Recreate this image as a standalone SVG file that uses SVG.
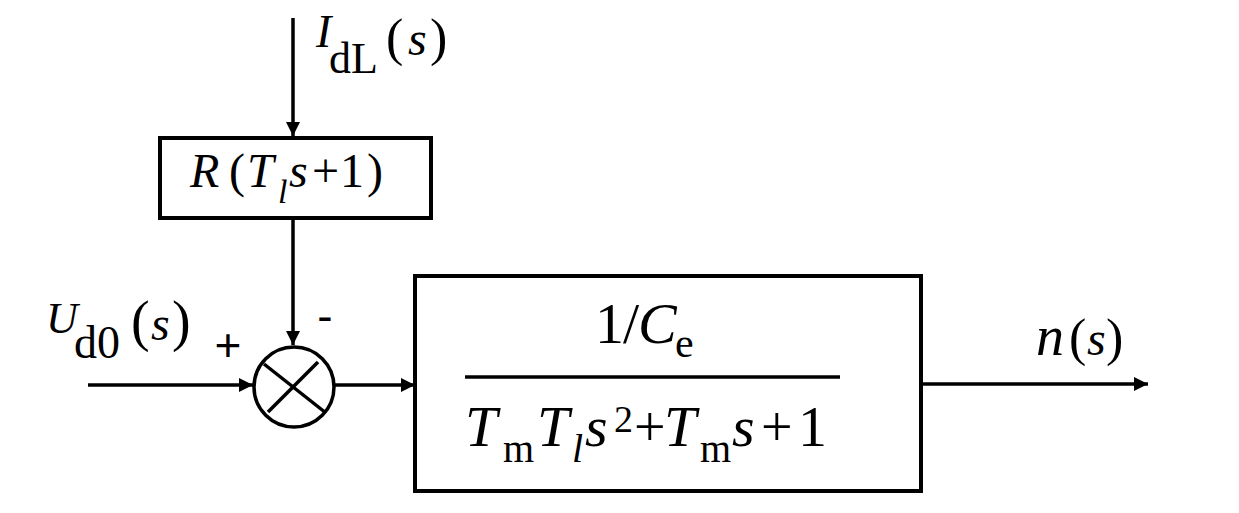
<svg xmlns="http://www.w3.org/2000/svg" width="1239" height="513" viewBox="0 0 1239 513">
<style>
.ln{stroke:#000;stroke-width:3.5;fill:none}
.bx{stroke:#000;stroke-width:4;fill:#fff}
.t{font-family:'Liberation Serif','Times New Roman',serif;fill:#000}
.i{font-style:italic}
.sg{font-family:'Liberation Sans',Arial,sans-serif;fill:#000}
</style>
<defs>
<marker id="ah" viewBox="0 0 10 10" refX="10" refY="5" markerWidth="5" markerHeight="4" markerUnits="strokeWidth" orient="auto">
<path d="M0,0L10,5L0,10z" fill="#000"/>
</marker>
</defs>
<g id="connectors">
<line class="ln" x1="293" y1="18" x2="293" y2="136" marker-end="url(#ah)"/>
<line class="ln" x1="293" y1="218" x2="293" y2="345" marker-end="url(#ah)"/>
<line class="ln" x1="88" y1="385" x2="253" y2="385" marker-end="url(#ah)"/>
<line class="ln" x1="335" y1="385" x2="415" y2="385" marker-end="url(#ah)"/>
<line class="ln" x1="921" y1="384" x2="1148" y2="384" marker-end="url(#ah)"/>
</g>
<g id="label-IdL" class="t">
<text class="i" x="316" y="47" font-size="46">I</text>
<text x="329" y="73" font-size="44">dL</text>
<text x="386" y="55" font-size="52">(</text>
<text class="i" x="408" y="55" font-size="48">s</text>
<text x="430" y="55" font-size="52">)</text>
</g>
<g id="node-R" class="t">
<rect class="bx" x="160" y="138" width="271" height="80"/>
<text class="i" x="190" y="187" font-size="48">R</text>
<text x="229" y="187" font-size="48">(</text>
<text class="i" x="247" y="187" font-size="48">T</text>
<text class="i" x="278" y="203" font-size="34">l</text>
<text class="i" x="289" y="187" font-size="48">s</text>
<text x="312" y="187" font-size="48">+</text>
<text x="340" y="187" font-size="48">1</text>
<text x="367" y="187" font-size="48">)</text>
</g>
<g id="label-Ud0" class="t">
<text class="i" x="46" y="333" font-size="44">U</text>
<text x="74" y="358" font-size="46">d0</text>
<text x="131" y="340" font-size="56">(</text>
<text class="i" x="151" y="340" font-size="48">s</text>
<text x="172" y="340" font-size="56">)</text>
</g>
<g id="sum">
<circle class="ln" cx="294" cy="387" r="40"/>
<line class="ln" x1="264" y1="364" x2="326" y2="413"/>
<line class="ln" x1="318" y1="362" x2="268" y2="412"/>
<text class="sg" x="228" y="361" font-size="46" text-anchor="middle">+</text>
<text class="sg" x="325" y="332" font-size="46" text-anchor="middle">-</text>
</g>
<g id="node-G" class="t">
<rect class="bx" x="415" y="276" width="506" height="215"/>
<text x="595" y="343" font-size="58">1</text>
<text x="623" y="343" font-size="58">/</text>
<text class="i" x="638" y="343" font-size="58">C</text>
<text x="675" y="357" font-size="42">e</text>
<line class="ln" x1="465" y1="377" x2="840" y2="377"/>
<text class="i" x="465" y="446" font-size="58">T</text>
<text x="503" y="462" font-size="40">m</text>
<text class="i" x="537" y="446" font-size="58">T</text>
<text class="i" x="572" y="462" font-size="40">l</text>
<text class="i" x="585" y="446" font-size="58">s</text>
<text x="614" y="432" font-size="38">2</text>
<text x="634" y="446" font-size="56">+</text>
<text class="i" x="664" y="446" font-size="58">T</text>
<text x="700" y="462" font-size="40">m</text>
<text class="i" x="732" y="446" font-size="58">s</text>
<text x="761" y="446" font-size="56">+</text>
<text x="798" y="446" font-size="58">1</text>
</g>
<g id="label-n" class="t">
<text class="i" x="1036" y="355" font-size="56">n</text>
<text x="1069" y="355" font-size="52">(</text>
<text class="i" x="1087" y="355" font-size="48">s</text>
<text x="1106" y="355" font-size="52">)</text>
</g>
</svg>
